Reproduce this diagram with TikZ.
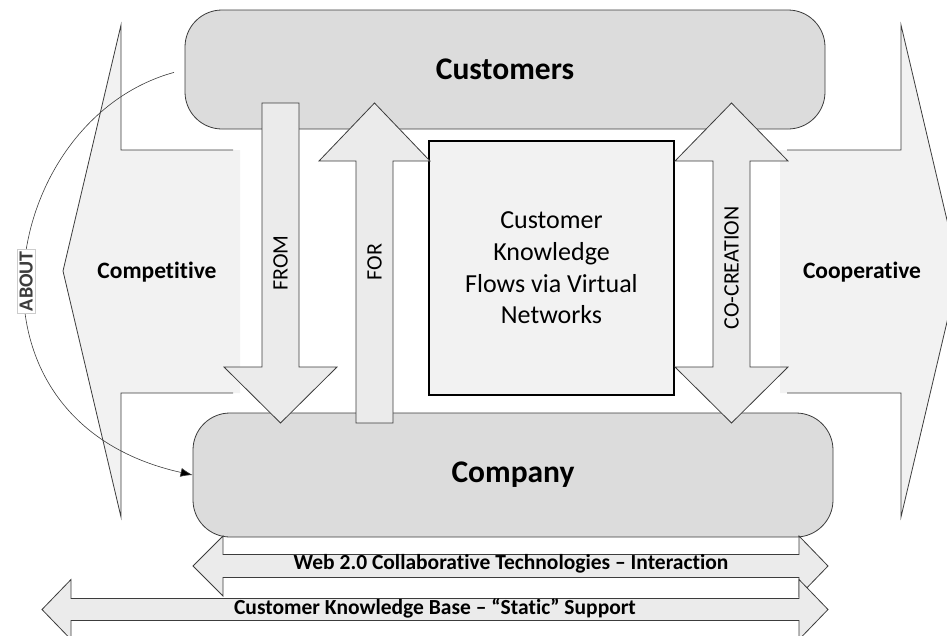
\documentclass[tikz,border=0pt]{standalone}
\usepackage{fontspec}
\setmainfont[Ligatures={TeX,NoCommon}]{Carlito}
\usetikzlibrary{arrows.meta}
\definecolor{boxGray}{RGB}{220,220,220}
\definecolor{arrowGray}{RGB}{235,235,235}
\definecolor{sideGray}{RGB}{242,242,242}
\definecolor{lineGray}{RGB}{60,60,60}
\newcommand{\boxRadius}{37pt}
\newcommand{\boxWidth}{640}

\begin{document}
\begin{tikzpicture}[x=1pt,y=-1pt]
\tikzstyle{mainBox}=[draw=lineGray,fill=boxGray,rounded corners=\boxRadius,line width=0.8pt,minimum width=\boxWidth,inner sep=0pt,font=\fontsize{31.5}{38}\selectfont\bfseries]
\tikzstyle{blockArrow}=[draw=lineGray,fill=arrowGray,line width=0.8pt,line join=miter]
\tikzstyle{sideArrow}=[draw=lineGray,line width=0.8pt]
\tikzstyle{arrowLabel}=[rotate=90,inner sep=0pt,font=\fontsize{22}{26}\selectfont]
\tikzstyle{sideLabel}=[inner sep=0pt,font=\fontsize{23.5}{28}\selectfont\bfseries]
\tikzstyle{baseLabel}=[inner sep=0pt,font=\fontsize{21.5}{25}\selectfont\bfseries]
\clip (0,0) rectangle (947,635);
\fill[sideGray] (240,150) -- (121,150) -- (121,25) -- (63,271) -- (121,517) -- (121,393) -- (240,393) -- cycle;
\draw[sideArrow] (233,150) -- (121,150) -- (121,25) -- (63,271) -- (121,517) -- (121,393) -- (233,393);
\fill[sideGray] (780,150) -- (901,150) -- (901,25) -- (959,271) -- (901,517) -- (901,393) -- (780,393) -- cycle;
\draw[sideArrow] (787,150) -- (901,150) -- (901,25) -- (959,271) -- (901,517) -- (901,393) -- (787,393);
\node[sideLabel] (t-compet) at (157,272) {Competitive};
\node[sideLabel] (t-coop) at (862,272) {Cooperative};
\node[mainBox,minimum height=119] (b-cust) at (505,69.5) {Customers};
\node[mainBox,minimum height=124] (b-comp) at (513,475) {Company};
\node[draw=black,line width=1.6pt,fill=sideGray,minimum width=245,minimum height=254,align=center,font=\fontsize{26}{31.7}\selectfont] (b-flow) at (551.5,268) {Customer\\Knowledge\\Flows via Virtual\\Networks};
\draw[blockArrow] (262,103) -- (299,103) -- (299,367) -- (337,367) -- (280.5,423) -- (224,367) -- (262,367) -- cycle;
\node[arrowLabel] (t-from) at (280.5,263) {FROM};
\draw[blockArrow] (356,423) -- (393,423) -- (393,161) -- (430,161) -- (374.5,103) -- (319,161) -- (356,161) -- cycle;
\node[arrowLabel] (t-for) at (374.5,262) {FOR};
\draw[blockArrow] (713,161) -- (675,161) -- (731.5,103) -- (788,161) -- (750,161) -- (750,367) -- (788,367) -- (731.5,423) -- (675,367) -- (713,367) -- cycle;
\node[arrowLabel] (t-cocr) at (731.5,268) {CO-CREATION};
\draw[blockArrow] (193,566) -- (223,536) -- (223,554.5) -- (799,554.5) -- (799,536) -- (828,566) -- (799,596) -- (799,577.5) -- (223,577.5) -- (223,596) -- cycle;
\node[baseLabel] (t-web) at (511,564) {Web 2.0 Collaborative Technologies – Interaction};
\draw[blockArrow] (42,609.5) -- (71,579.5) -- (71,598.5) -- (799,598.5) -- (799,579.5) -- (828,609.5) -- (799,639.5) -- (799,620.5) -- (71,620.5) -- (71,639.5) -- cycle;
\node[baseLabel] (t-ckb) at (435,608) {Customer Knowledge Base – “Static” Support};
\draw[lineGray,line width=0.6pt,-{Latex[length=12pt,width=9pt,fill=black]},shorten <=11pt] (b-cust.west) .. controls (0,120) and (-55,420) .. (b-comp.west) node[pos=0.52,rotate=90,fill=white,draw=gray!40,line width=0.4pt,inner sep=2pt,font=\fontsize{20}{24}\selectfont\bfseries] (t-about) {ABOUT};
\end{tikzpicture}
\end{document}
